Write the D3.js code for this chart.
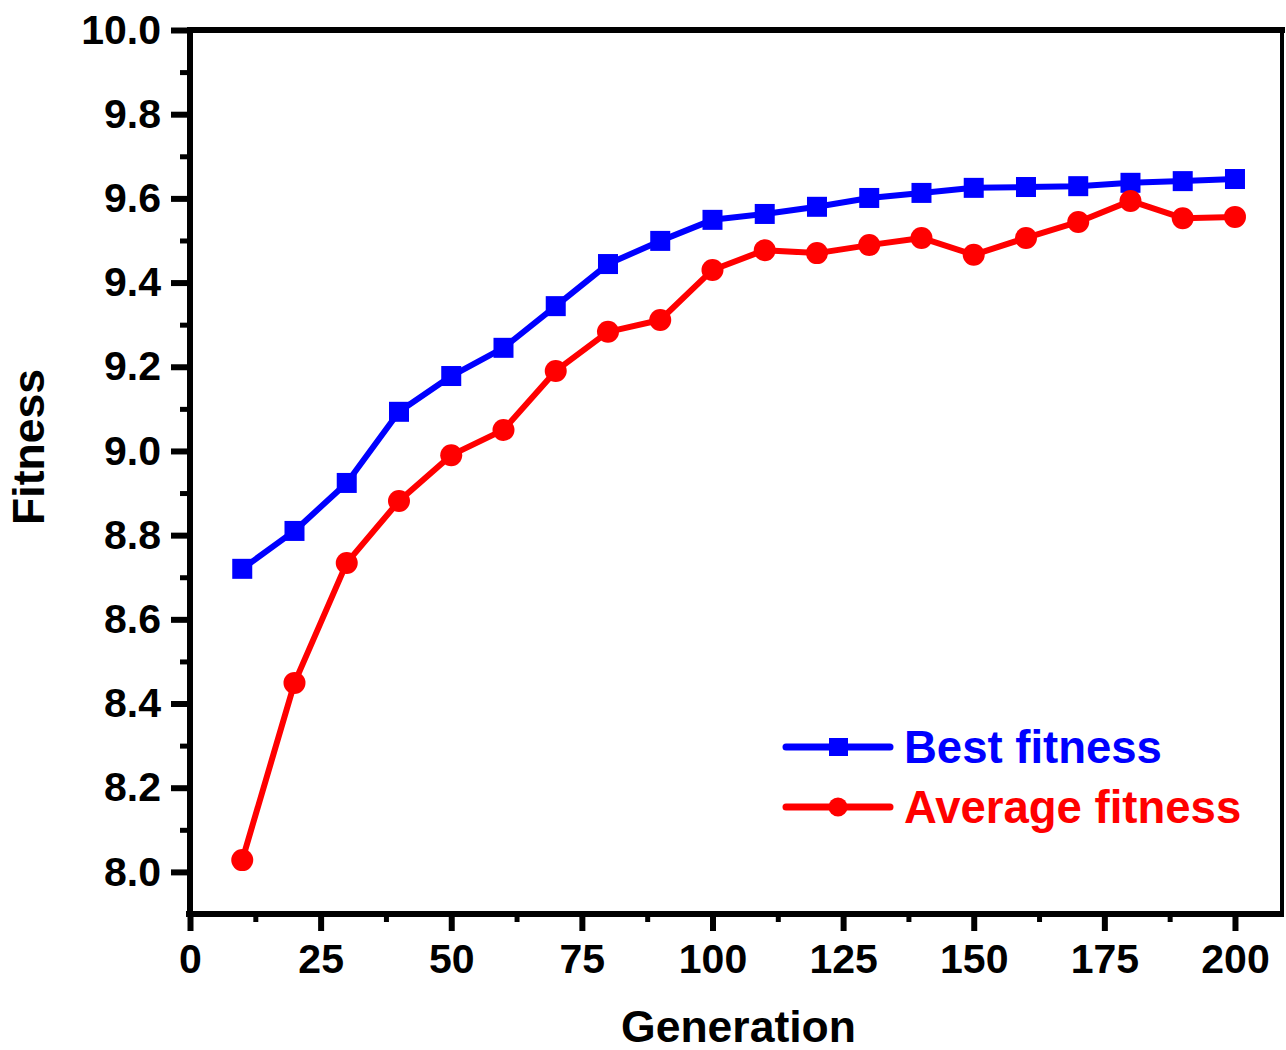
<!DOCTYPE html>
<html>
<head>
<meta charset="utf-8">
<script src="https://cdn.jsdelivr.net/npm/d3@7"></script>
<style>
  html, body { margin: 0; padding: 0; background: #fff; }
  svg { display: block; font-family: "Liberation Sans", Arial, sans-serif; font-weight: bold; }
</style>
</head>
<body>
<script>
const generations = [10,20,30,40,50,60,70,80,90,100,110,120,130,140,150,160,170,180,190,200];
const bestFitness = [8.72,8.81,8.924,9.093,9.178,9.245,9.344,9.444,9.499,9.549,9.563,9.580,9.601,9.613,9.625,9.627,9.629,9.637,9.641,9.646];
const averageFitness = [8.028,8.449,8.734,8.881,8.990,9.050,9.190,9.283,9.311,9.430,9.477,9.470,9.489,9.506,9.466,9.506,9.544,9.594,9.553,9.556];
const xTicks = [0,25,50,75,100,125,150,175,200];
const yTicks = [8.0,8.2,8.4,8.6,8.8,9.0,9.2,9.4,9.6,9.8,10.0];
const seriesNames = ["Best fitness","Average fitness"];
const seriesColors = ["#0000ff","#ff0000"];
const xTitle = "Generation";
const yTitle = "Fitness";

(function () {
const W = 1286, H = 1050;
const svg = d3.select("body").append("svg").attr("width", W).attr("height", H);

const x = d3.scaleLinear().domain([0, 209]).range([190, 1282]);
const y = d3.scaleLinear().domain([7.9, 10.0]).range([914, 30]);

const pL = x.range()[0], pR = x.range()[1], pT = y.range()[1], pB = y.range()[0];
const FONT = "Liberation Sans, Arial, sans-serif";

// Frame
svg.append("line").attr("x1", pL).attr("x2", pR + 3).attr("y1", pT).attr("y2", pT)
  .attr("stroke", "#000").attr("stroke-width", 6);
svg.append("line").attr("x1", pR).attr("x2", pR).attr("y1", pT).attr("y2", pB)
  .attr("stroke", "#000").attr("stroke-width", 4);

// X axis
const xMinor = d3.range(12.5, 209, 25);
svg.append("g").attr("transform", `translate(0,${pB})`)
  .call(d3.axisBottom(x).tickValues(xMinor).tickSize(8).tickFormat(""))
  .call(g => g.select(".domain").remove())
  .call(g => g.selectAll("line").attr("stroke-width", 5));
svg.append("g").attr("transform", `translate(0,${pB})`)
  .call(d3.axisBottom(x).tickValues(xTicks).tickSize(17).tickPadding(13).tickFormat(d3.format("d")))
  .call(g => g.select(".domain").remove())
  .call(g => g.selectAll("line").attr("stroke-width", 6))
  .call(g => g.selectAll("text").attr("font-size", 41).attr("font-weight", "bold")
     .attr("font-family", FONT).attr("fill", "#000"));
svg.append("line").attr("x1", pL - 4).attr("x2", pR + 2).attr("y1", pB).attr("y2", pB)
  .attr("stroke", "#000").attr("stroke-width", 6);

// Y axis
const yMinor = [8.1,8.3,8.5,8.7,8.9,9.1,9.3,9.5,9.7,9.9];
svg.append("g").attr("transform", `translate(${pL},0)`)
  .call(d3.axisLeft(y).tickValues(yMinor).tickSize(10).tickFormat(""))
  .call(g => g.select(".domain").remove())
  .call(g => g.selectAll("line").attr("stroke-width", 5));
svg.append("g").attr("transform", `translate(${pL},0)`)
  .call(d3.axisLeft(y).tickValues(yTicks).tickSize(19).tickPadding(10).tickFormat(d3.format(".1f")))
  .call(g => g.select(".domain").remove())
  .call(g => g.selectAll("line").attr("stroke-width", 6))
  .call(g => g.selectAll("text").attr("font-size", 41).attr("font-weight", "bold")
     .attr("font-family", FONT).attr("fill", "#000"));
svg.append("line").attr("x1", pL).attr("x2", pL).attr("y1", pT - 3).attr("y2", pB + 3)
  .attr("stroke", "#000").attr("stroke-width", 6);

// Titles
svg.append("text").attr("x", (x(0) + x(200)) / 2 + 26).attr("y", 1042).attr("text-anchor", "middle")
  .attr("font-size", 44.5).text(xTitle);
svg.append("text").attr("transform", `translate(44,${(pT + pB) / 2 - 25}) rotate(-90)`)
  .attr("text-anchor", "middle").attr("font-size", 44.5).text(yTitle);

// Series
const series = [bestFitness, averageFitness];
const line = d3.line().x(d => x(d[0])).y(d => y(d[1]));
series.forEach((vals, i) => {
  const pts = generations.map((g, j) => [g, vals[j]]);
  svg.append("path").datum(pts).attr("d", line).attr("fill", "none")
    .attr("stroke", seriesColors[i]).attr("stroke-width", 6).attr("stroke-linejoin", "round");
  if (i === 0) {
    svg.selectAll(null).data(pts).enter().append("rect")
      .attr("x", d => x(d[0]) - 10).attr("y", d => y(d[1]) - 10)
      .attr("width", 20).attr("height", 20).attr("fill", seriesColors[i]);
  } else {
    svg.selectAll(null).data(pts).enter().append("circle")
      .attr("cx", d => x(d[0])).attr("cy", d => y(d[1])).attr("r", 11)
      .attr("fill", seriesColors[i]);
  }
});

// Legend
const legY = [747, 807];
seriesNames.forEach((name, i) => {
  const g = svg.append("g");
  g.append("line").attr("x1", 786).attr("x2", 890).attr("y1", legY[i]).attr("y2", legY[i])
    .attr("stroke", seriesColors[i]).attr("stroke-width", 7).attr("stroke-linecap", "round");
  if (i === 0) {
    g.append("rect").attr("x", 829).attr("y", legY[i] - 9).attr("width", 19).attr("height", 18)
      .attr("fill", seriesColors[i]);
  } else {
    g.append("circle").attr("cx", 838).attr("cy", legY[i]).attr("r", 9.5).attr("fill", seriesColors[i]);
  }
  g.append("text").attr("x", 904).attr("y", legY[i] + 16).attr("font-size", 45.5)
    .attr("fill", seriesColors[i]).text(name);
});
})();
</script>
</body>
</html>
